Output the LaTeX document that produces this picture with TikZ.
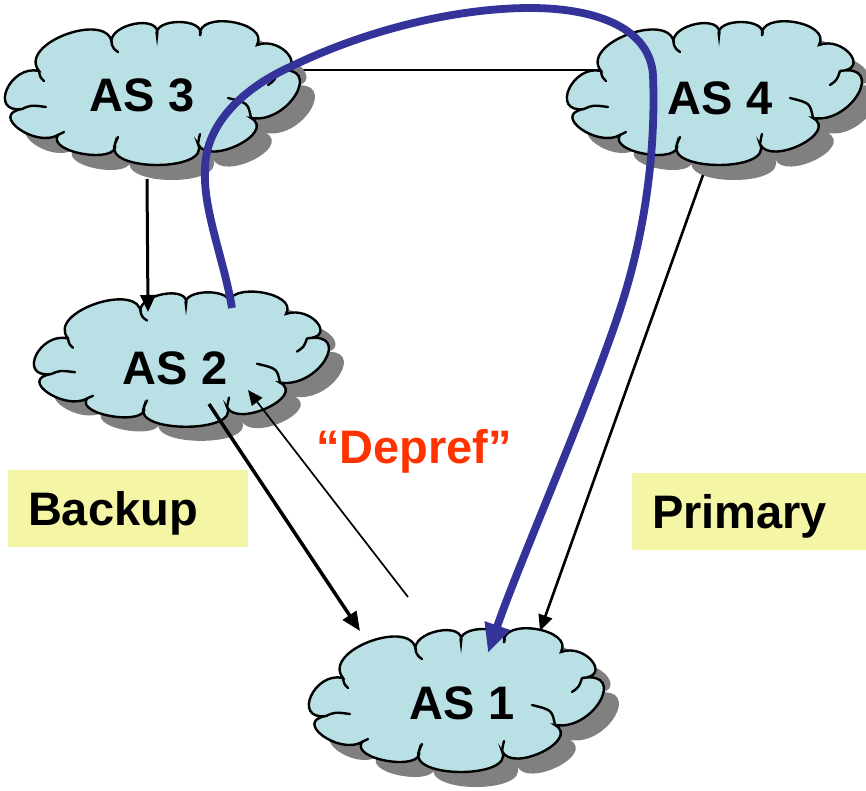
\documentclass[tikz,border=0pt]{standalone}
\usepackage{fontspec}
\setmainfont{Liberation Sans}
\usetikzlibrary{arrows.meta}

\definecolor{cloudfill}{RGB}{185,224,228}
\definecolor{cloudshade}{RGB}{128,128,128}
\definecolor{pathblue}{RGB}{51,51,153}
\definecolor{notered}{RGB}{255,51,0}
\definecolor{tagyellow}{RGB}{245,245,166}

\newcommand\labelfont{\bfseries\fontsize{47}{56}\selectfont}

% outline of one cloud, centred on the origin (y grows downwards)
\newcommand\cloudoutline{(-113,-23)
  .. controls (-135.3,-51.1) and (-40.4,-84.9) .. (-40,-49)
  .. controls (-47.4,-69.7) and (11.1,-81.4) .. (5,-58)
  .. controls (-0.8,-76.7) and (55.1,-76.7) .. (48,-58)
  .. controls (44.1,-84) and (118.2,-72.3) .. (105,-49)
  .. controls (129.2,-58.2) and (156.5,-24.4) .. (126,-23)
  .. controls (172.1,-30.7) and (137,30.4) .. (99,24)
  .. controls (125,38.8) and (56.1,72.6) .. (46,50)
  .. controls (59.1,78) and (-48.8,78) .. (-37,50)
  .. controls (-31.8,70.7) and (-105.9,59) .. (-94,41)
  .. controls (-116.6,54.2) and (-163.4,20.4) .. (-130,15)
  .. controls (-163.9,19.4) and (-141.8,-30) .. cycle}

% short inner strokes where the puffs meet
\newcommand\cloudhooks{(-130,15) .. controls (-121,11) .. (-106,13)
  (99,24) .. controls (96,9) .. (76,4)
  (126,-23) .. controls (123,-14) .. (116,-9)
  (-113,-23) .. controls (-112,-17) .. (-108,-13)
  (-40,-49) .. controls (-38,-45) .. (-34,-42)
  (46,50) .. controls (47,44) .. (48,40)
  (-37,50) .. controls (-36,46) .. (-34,43)
  (-94,41) .. controls (-91,39) .. (-88,38)}

\tikzset{
  pics/ascloud/.style={code={
    \fill[cloudshade, shift={(15,15)}] \cloudoutline;
    \filldraw[fill=cloudfill, draw=black, line width=2.4pt] \cloudoutline;
    \draw[line width=2.4pt, line cap=round] \cloudhooks;
  }},
  aslabel/.style={font=\labelfont, inner sep=0pt},
  tag/.style={fill=tagyellow, font=\labelfont, minimum height=77pt,
    inner xsep=20pt, inner ysep=0pt, text depth=0pt, align=left},
  link/.style={draw=black, line width=2.5pt},
}

\begin{document}
\begin{tikzpicture}[x=1pt, y=-1pt]
\useasboundingbox (0,0) rectangle (866,790);

% peering link between AS 3 and AS 4, behind the clouds
\coordinate (as3-east) at (152,70);
\coordinate (as4-west) at (714,70);
\draw[link] (as3-east) -- (as4-west);

% the four clouds
\pic at (152,94) {ascloud};
\pic at (714,94) {ascloud};
\pic[yscale=0.94] at (181,360) {ascloud};
\pic at (456,701) {ascloud};

\node[aslabel] (as3) at (142,95) {AS 3};
\node[aslabel] (as4) at (720,98) {AS 4};
\node[aslabel] (as2) at (175,368) {AS 2};
\node[aslabel] (as1) at (462,703) {AS 1};

% connector end points
\coordinate (as3-south) at (147,179);
\coordinate (as2-north) at (148,312);
\coordinate (as2-out) at (209,404);
\coordinate (as1-nw) at (360,631);
\coordinate (as1-up) at (408,597);
\coordinate (as2-in) at (248,390);
\coordinate (as4-south) at (703,175);
\coordinate (as1-ne) at (540,631);

\draw[link, line width=3pt, -{Triangle[length=17pt,width=15pt]}] (as3-south) -- (as2-north);
\draw[link, line width=3.5pt, -{Triangle[length=19pt,width=16pt]}] (as2-out) -- (as1-nw);
\draw[link, line width=1.7pt, -{Triangle[length=15pt,width=13pt]}] (as1-up) -- (as2-in);
\draw[link, line width=2.6pt, -{Triangle[length=16pt,width=14pt]}] (as4-south) -- (as1-ne);

% route taken by the traffic
\coordinate (route-start) at (232,308);
\coordinate (route-end) at (488,653);
\draw[pathblue, line width=7.8pt, -{Triangle[length=29pt,width=25pt]}]
  (route-start) .. controls (224,260) and (203,210) .. (205,170)
  .. controls (205,120) and (250,85) .. (290,67)
  .. controls (370,28) and (460,8) .. (530,8)
  .. controls (600,8) and (650,30) .. (653,75)
  .. controls (656,150) and (645,230) .. (623,300)
  .. controls (595,390) and (520,560) .. (route-end);

% labels
\node[font=\labelfont, text=notered, inner sep=0pt] (depref) at (414,451) {“Depref”};
\node[tag, text width=200pt] (backup) at (128,508.5) {Backup};
\node[tag, text width=194pt] (primary) at (749,511.5) {Primary};
\end{tikzpicture}
\end{document}
